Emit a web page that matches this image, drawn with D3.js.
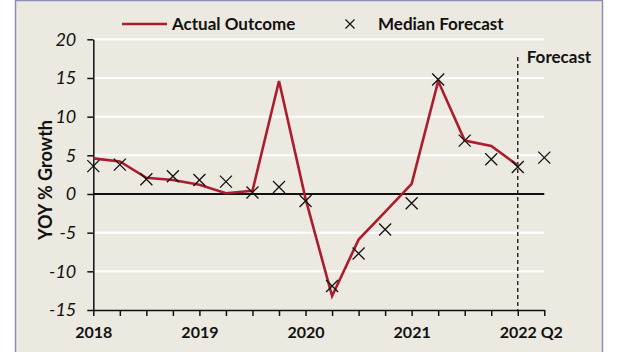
<!DOCTYPE html>
<html>
<head>
<meta charset="utf-8">
<script src="https://cdn.jsdelivr.net/npm/d3@7"></script>
<style>
  body { margin: 0; background: #fff; }
  text { font-family: Lato, "Open Sans", sans-serif; }
</style>
</head>
<body>
<div id="chart"></div>
<script>
// quarters 2018 Q1 .. 2022 Q2
const quarters = d3.range(18);
const tickLabels = ["2018", "", "", "", "2019", "", "", "", "2020", "", "", "", "2021", "", "", "", "2022", "Q2"];
const actual = [4.6, 4.2, 2.1, 1.8, 1.2, 0.1, 0.4, 14.6, -0.6, -13.2, -5.9, -2.3, 1.3, 14.6, 6.9, 6.2, 3.7];
const forecast = [3.6, 3.8, 1.9, 2.3, 1.8, 1.6, 0.2, 0.9, -0.9, -11.9, -7.7, -4.6, -1.2, 14.8, 6.9, 4.5, 3.5, 4.7];
const yTicks = [-15, -10, -5, 0, 5, 10, 15, 20];

function draw() {
    const W = 626, H = 352;
    const svg = d3.select("#chart").append("svg")
        .attr("width", W)
        .attr("height", H);

    // panel
    svg.append("rect")
        .attr("x", 15.5).attr("y", 0.5)
        .attr("width", 587).attr("height", H + 2)
        .attr("fill", "#ebe9e0")
        .attr("stroke", "#8e8eb4")
        .attr("stroke-width", 1.5);

    const x = d3.scaleLinear().domain([0, 17]).range([93.3, 544.3]);
    const y = d3.scaleLinear().domain([-15, 20]).range([310, 39.3]);

    // white gridlines
    svg.append("g").selectAll("line")
        .data(yTicks.filter(d => d !== 0 && d !== -15))
        .join("line")
        .attr("x1", x(0)).attr("x2", x(17))
        .attr("y1", d => y(d)).attr("y2", d => y(d))
        .attr("stroke", "#fff")
        .attr("stroke-width", 2);

    // zero line
    svg.append("line")
        .attr("x1", x(0)).attr("x2", x(17))
        .attr("y1", y(0)).attr("y2", y(0))
        .attr("stroke", "#111")
        .attr("stroke-width", 2);

    // y axis
    const yAxis = svg.append("g")
        .attr("transform", "translate(" + x(0) + ",0)")
        .call(d3.axisLeft(y).tickValues(yTicks).tickSize(6).tickPadding(11).tickSizeOuter(0)
            .tickFormat(d => String(d)));
    yAxis.select(".domain").attr("stroke", "#111").attr("stroke-width", 1.5);
    yAxis.selectAll(".tick line").attr("stroke", "#111").attr("stroke-width", 1.5);
    yAxis.selectAll(".tick text")
        .attr("font-family", "Lato, sans-serif")
        .attr("font-size", 18)
        .attr("font-style", "italic")
        .attr("fill", "#111");

    // x axis
    const xAxis = svg.append("g")
        .attr("transform", "translate(0," + y(-15) + ")")
        .call(d3.axisBottom(x).tickValues(quarters).tickSize(6).tickPadding(11).tickSizeOuter(0)
            .tickFormat(d => tickLabels[d]));
    xAxis.select(".domain").attr("stroke", "#111").attr("stroke-width", 1.5);
    xAxis.selectAll(".tick line").attr("stroke", "#111").attr("stroke-width", 1.5);
    xAxis.selectAll(".tick text")
        .attr("font-family", "Lato, sans-serif")
        .attr("font-size", 16)
        .attr("font-weight", "bold")
        .attr("fill", "#111")
        .attr("dx", d => d === 17 ? 7 : 0);

    // forecast divider
    svg.append("line")
        .attr("x1", x(16)).attr("x2", x(16))
        .attr("y1", 57).attr("y2", y(-15))
        .attr("stroke", "#111")
        .attr("stroke-width", 1.3)
        .attr("stroke-dasharray", "4,3");
    svg.append("text")
        .attr("x", x(16) + 9).attr("y", 63)
        .attr("font-size", 17).attr("font-weight", "bold")
        .attr("fill", "#111")
        .text("Forecast");

    // actual outcome line
    const line = d3.line()
        .x((d, i) => x(i))
        .y(d => y(d));
    svg.append("path")
        .datum(actual)
        .attr("d", line)
        .attr("fill", "none")
        .attr("stroke", "#ab1c2c")
        .attr("stroke-width", 2.6)
        .attr("stroke-linejoin", "miter");

    // median forecast markers
    const cross = (s) => "M" + (-s) + "," + (-s) + "L" + s + "," + s + "M" + (-s) + "," + s + "L" + s + "," + (-s);
    svg.append("g").selectAll("path")
        .data(forecast)
        .join("path")
        .attr("transform", (d, i) => "translate(" + x(i) + "," + y(d) + ")")
        .attr("d", cross(6))
        .attr("fill", "none")
        .attr("stroke", "#111")
        .attr("stroke-width", 1.3);

    // y title
    svg.append("text")
        .attr("transform", "translate(52,180) rotate(-90)")
        .attr("text-anchor", "middle")
        .attr("font-size", 18).attr("font-weight", "bold")
        .attr("fill", "#111")
        .text("YOY % Growth");

    // legend
    const lg = svg.append("g");
    lg.append("line")
        .attr("x1", 122).attr("x2", 167)
        .attr("y1", 24).attr("y2", 24)
        .attr("stroke", "#ab1c2c").attr("stroke-width", 2.6);
    lg.append("text")
        .attr("x", 172).attr("y", 30)
        .attr("font-size", 17).attr("font-weight", "bold")
        .attr("fill", "#111")
        .text("Actual Outcome");
    lg.append("path")
        .attr("transform", "translate(350,24)")
        .attr("d", cross(4.5))
        .attr("fill", "none").attr("stroke", "#111").attr("stroke-width", 1.2);
    lg.append("text")
        .attr("x", 378).attr("y", 30)
        .attr("font-size", 17).attr("font-weight", "bold")
        .attr("fill", "#111")
        .text("Median Forecast");
}

draw();
</script>
</body>
</html>
